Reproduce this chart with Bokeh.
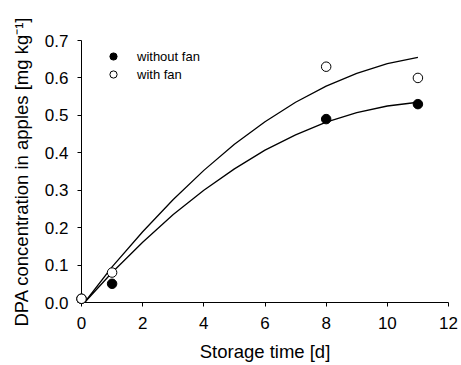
from bokeh.plotting import figure
from bokeh.models import Range1d, FixedTicker, Legend, LegendItem, PrintfTickFormatter
from bokeh.embed import file_html
from bokeh.resources import INLINE

# ---- data ----
days = [0, 1, 8, 11]
without_fan = [0.01, 0.05, 0.49, 0.53]
with_fan = [0.01, 0.08, 0.63, 0.60]

# fitted curves
curve_days = [0.1, 1, 2, 3, 4, 5, 6, 7, 8, 9, 10, 11]
curve_without_fan = [0.0, 0.080, 0.161, 0.235, 0.300, 0.357, 0.407, 0.448, 0.482, 0.507, 0.525, 0.535]
curve_with_fan = [0.0, 0.095, 0.189, 0.275, 0.353, 0.423, 0.483, 0.535, 0.578, 0.612, 0.638, 0.655]

x_ticks = [0, 2, 4, 6, 8, 10, 12]
y_ticks = [0.0, 0.1, 0.2, 0.3, 0.4, 0.5, 0.6, 0.7]

FONT = "Liberation Sans"

p = figure(
    width=461, height=365,
    output_backend="svg", toolbar_location=None,
    x_range=Range1d(0, 12), y_range=Range1d(0, 0.7),
    min_border_left=81, min_border_right=13, min_border_top=40, min_border_bottom=63,
)
p.outline_line_color = None
p.xgrid.visible = False
p.ygrid.visible = False
p.background_fill_color = "white"
p.border_fill_color = "white"

# curves
p.line(curve_days, curve_without_fan, line_color="black", line_width=1.3)
p.line(curve_days, curve_with_fan, line_color="black", line_width=1.3)

# points (overlay level so markers on the axes are not clipped)
r_without = p.scatter(days, without_fan, marker="circle", size=9.5,
                      fill_color="black", line_color="black", level="overlay")
r_with = p.scatter(days, with_fan, marker="circle", size=9.5,
                   fill_color="white", line_color="black", line_width=1, level="overlay")

legend = Legend(items=[
    LegendItem(label="without fan", renderers=[r_without]),
    LegendItem(label="with fan", renderers=[r_with]),
], location=(22, 219))
legend.background_fill_alpha = 0
legend.border_line_color = None
legend.padding = 0
legend.margin = 0
legend.spacing = 0
legend.glyph_height = 18
legend.glyph_width = 20
legend.label_height = 18
legend.label_standoff = 14
legend.label_text_font = FONT
legend.label_text_font_size = "13px"
legend.label_text_color = "black"
p.add_layout(legend, "center")

for ax in (p.xaxis[0], p.yaxis[0]):
    ax.axis_line_color = "black"
    ax.axis_line_width = 1
    ax.major_tick_line_color = "black"
    ax.major_tick_in = 0
    ax.major_tick_out = 4
    ax.minor_tick_line_color = None
    ax.major_label_text_font = FONT
    ax.major_label_text_font_size = "17px"
    ax.major_label_text_color = "black"
    ax.axis_label_text_font = FONT
    ax.axis_label_text_font_style = "normal"
    ax.axis_label_text_color = "black"
    ax.axis_label_text_font_size = "18.5px"

p.xaxis.ticker = FixedTicker(ticks=x_ticks)
p.yaxis.ticker = FixedTicker(ticks=y_ticks)
p.yaxis.formatter = PrintfTickFormatter(format="%.1f")

p.xaxis.axis_label = "Storage time [d]"
p.xaxis.major_label_standoff = 10
p.xaxis.axis_label_standoff = 9

p.yaxis.axis_label = "DPA concentration in apples [mg kg\u207b\u00b9]"
p.yaxis.major_label_standoff = 9
p.yaxis.axis_label_standoff = 10

open("out.html", "w").write(file_html(p, INLINE))
